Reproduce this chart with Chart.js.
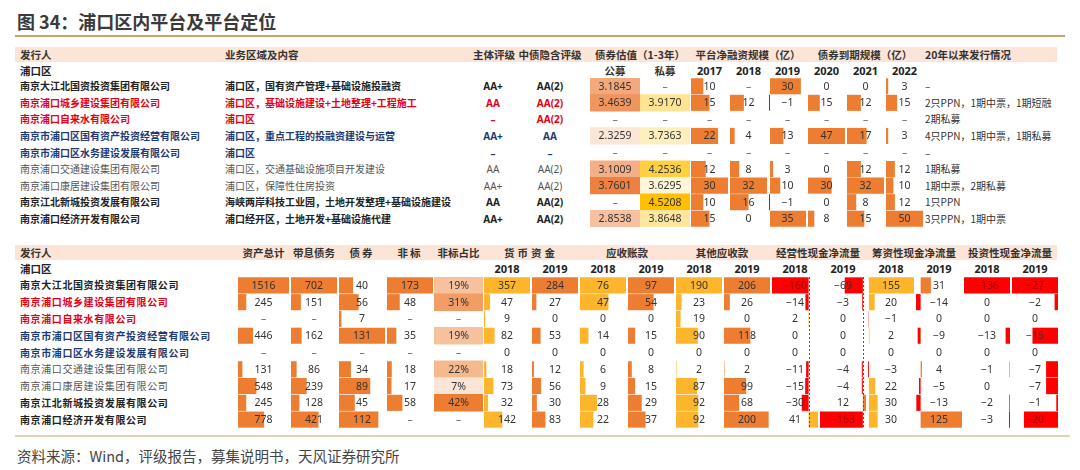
<!DOCTYPE html>
<html>
<head>
<meta charset="utf-8">
<script src="https://cdn.jsdelivr.net/npm/chart.js@4.4.1/dist/chart.umd.min.js"></script>
<style>
  body { margin: 0; background: #fff; width: 1080px; height: 470px; position: relative; overflow: hidden;
         font-family: "Noto Sans CJK SC", "Noto Sans", sans-serif; color: #333; }
  .t { position: absolute; white-space: nowrap; line-height: 14px; font-size: 10px; transform: translateY(-50%); }
  canvas { position: absolute; }
  .band { position: absolute; left: 15px; width: 1042px; height: 15px; background: #fce4d6; }
</style>
</head>
<body>
<script>
// ---- table 1: platforms ----
const companies = ["南京大江北国资投资集团有限公司", "南京浦口城乡建设集团有限公司", "南京浦口自来水有限公司",
  "南京市浦口区国有资产投资经营有限公司", "南京市浦口区水务建设发展有限公司", "南京浦口交通建设集团有限公司",
  "南京浦口康居建设集团有限公司", "南京江北新城投资发展有限公司", "南京浦口经济开发有限公司"];
const rowColors = ["#222", "#e60012", "#e60012", "#1f3b73", "#1f3b73", "#555", "#555", "#222", "#222"];
const rowBold = [true, true, true, true, true, false, false, true, true];
const business = ["浦口区，国有资产管理+基础设施投融资", "浦口区，基础设施建设+土地整理+工程施工", "浦口区",
  "浦口区，重点工程的投融资建设与运营", "浦口区", "浦口区，交通基础设施项目开发建设", "浦口区，保障性住房投资",
  "海峡两岸科技工业园，土地开发整理+基础设施建设", "浦口经开区，土地开发+基础设施代建"];
const ratingMain = ["AA+", "AA", "–", "AA+", "–", "AA", "AA+", "AA", "AA+"];
const ratingImplied = ["AA(2)", "AA(2)", "AA(2)", "AA", "–", "AA(2)", "AA(2)", "AA(2)", "AA(2)"];
const valPublic = [3.1845, 3.4639, null, 2.3259, null, 3.1009, 3.7601, null, 2.8538];
const valPrivate = [null, 3.9170, null, 3.7363, null, 4.2536, 3.6295, 4.5208, 3.8648];
const netFin2017 = [10, 15, null, 22, null, 12, 30, 10, 15];
const netFin2018 = [null, 12, null, 4, null, 8, 32, 16, 0];
const netFin2019 = [30, -1, null, 13, null, 3, 10, -1, 35];
const due2020 = [0, 15, null, 47, null, 0, 30, 0, 8];
const due2021 = [0, 12, null, 17, null, 12, 32, 8, 15];
const due2022 = [3, 15, null, 3, null, 12, 10, 12, 50];
const issuance = ["–", "2只PPN，1期中票，1期短融", "2期私募", "4只PPN，1期中票，1期私募", "–", "1期私募",
  "1期中票，2期私募", "1只PPN", "3只PPN，1期中票"];
const years1 = ["2017", "2018", "2019", "2020", "2021", "2022"];

// ---- table 2: financials (亿) ----
const totalAssets = [1516, 245, null, 446, null, 131, 548, 245, 778];
const interestDebt = [702, 151, null, 162, null, 86, 239, 128, 421];
const bonds = [40, 56, 7, 131, null, 34, 89, 45, 112];
const nonStd = [173, 48, null, 35, null, 18, 17, 58, null];
const nonStdRatio = [19, 31, null, 19, null, 22, 7, 42, null];
const cash2018 = [357, 47, 9, 82, 0, 18, 73, 32, 142];
const cash2019 = [284, 27, 0, 53, 0, 12, 56, 30, 83];
const recv2018 = [76, 47, 0, 14, 0, 6, 9, 28, 22];
const recv2019 = [97, 54, 0, 15, 0, 8, 15, 29, 37];
const otherRecv2018 = [190, 23, 19, 90, 0, 2, 87, 92, 92];
const otherRecv2019 = [206, 26, 0, 118, 0, 2, 99, 68, 200];
const opCF2018 = [-160, -14, 2, 0, 0, -11, -15, -30, 41];
const opCF2019 = [-69, -3, 0, 0, 0, -4, -4, 12, -163];
const finCF2018 = [155, 20, -1, 2, 0, -3, 22, 30, 30];
const finCF2019 = [31, -14, 0, -9, 0, 4, -5, -13, 125];
const invCF2018 = [-136, 0, 0, -13, 0, -1, 0, -2, -3];
const invCF2019 = [-27, -2, 0, -15, 0, -7, -7, -1, -20];

const ORANGE = "#ed7d31", GOLD = "#fdb52b", RED = "#ff0000";
const NUMFONT = '10.5px "Noto Sans", "Liberation Sans", sans-serif';

// row geometry
const T1_TOP = 78, T1_H = 149, T2_TOP = 277, T2_H = 151;
const y1 = i => T1_TOP + T1_H / 9 * (i + 0.5);
const y2 = i => T2_TOP + T2_H / 9 * (i + 0.5);

function txt(s, x, y, o = {}) {
  const d = document.createElement("div");
  d.className = "t";
  d.textContent = s;
  d.style.left = x + "px";
  d.style.top = y + "px";
  if (o.center) d.style.transform = "translate(-50%,-50%)";
  if (o.color) d.style.color = o.color;
  if (o.bold) d.style.fontWeight = "bold";
  if (o.size) d.style.fontSize = o.size + "px";
  if (o.ls) d.style.letterSpacing = o.ls + "px";
  if (o.num) d.style.fontFamily = '"Noto Sans", "Liberation Sans", sans-serif';
  document.body.appendChild(d);
}

function box(x, y, w, h, bg) {
  const d = document.createElement("div");
  d.style.cssText = `position:absolute;left:${x}px;top:${y}px;width:${w}px;height:${h}px;background:${bg}`;
  document.body.appendChild(d);
}

const fmtNum = v => v < 0 ? "\u2212" + (-v) : String(v);

// draws the cell values (and optional dashed zero axis) on top of the bars
function cellPlugin(texts, values, axis) {
  return {
    id: "cellText",
    afterDatasetsDraw(chart) {
      const { ctx, chartArea } = chart;
      const ys = chart.scales.y, xs = chart.scales.x;
      const cx = (chartArea.left + chartArea.right) / 2;
      ctx.save();
      if (axis) {
        const x = Math.round(xs.getPixelForValue(0)) + 0.5;
        ctx.setLineDash([2, 2]);
        ctx.strokeStyle = "#555";
        ctx.lineWidth = 1;
        ctx.beginPath();
        ctx.moveTo(x, chartArea.top);
        ctx.lineTo(x, chartArea.bottom);
        ctx.stroke();
        ctx.setLineDash([]);
      }
      ctx.font = NUMFONT;
      ctx.textAlign = "center";
      ctx.textBaseline = "middle";
      texts.forEach((t, i) => {
        const v = values[i];
        let colr = "#333";
        if (v === null) colr = "#666";
        else if (typeof v === "number" && v < 0 &&
                 xs.getPixelForValue(v) < cx - 3 && xs.getPixelForValue(0) > cx + 3) colr = "#a00000";
        ctx.fillStyle = colr;
        ctx.fillText(t, cx, ys.getPixelForValue(i) + 0.5);
      });
      ctx.restore();
    }
  };
}

function makeCanvas(x0, x1, top, h) {
  const c = document.createElement("canvas");
  c.width = x1 - x0;
  c.height = h;
  c.style.left = x0 + "px";
  c.style.top = top + "px";
  document.body.appendChild(c);
  return c;
}

function baseOptions(min, max) {
  return {
    indexAxis: "y",
    responsive: false,
    animation: false,
    layout: { padding: 0 },
    events: [],
    plugins: { legend: { display: false }, tooltip: { enabled: false } },
    scales: { x: { display: false, min: min, max: max }, y: { display: false } }
  };
}

// Excel-style data bar column
function barCol(x0, x1, top, h, values, posColor, o = {}) {
  const c = makeCanvas(x0, x1, top, h);
  const nums = values.filter(v => v !== null);
  const lo = Math.min(0, ...nums), hi = Math.max(0, ...nums);
  const m = (hi - lo) / (x1 - x0 - 2);
  const texts = values.map(v => v === null ? "–" : fmtNum(v));
  new Chart(c, {
    type: "bar",
    data: {
      labels: values.map((_, i) => i),
      datasets: [{
        data: values,
        backgroundColor: values.map(v => v < 0 ? RED : posColor),
        borderWidth: 0,
        barPercentage: 1,
        categoryPercentage: o.cat || 0.96
      }]
    },
    options: baseOptions(lo - m, hi + m),
    plugins: [cellPlugin(texts, values, o.axis)]
  });
}

function mix(a, b, t) {
  const pa = [1, 3, 5].map(k => parseInt(a.substr(k, 2), 16));
  const pb = [1, 3, 5].map(k => parseInt(b.substr(k, 2), 16));
  return "rgb(" + pa.map((v, k) => Math.round(v + (pb[k] - v) * t)).join(",") + ")";
}

// colour-scale filled cells
function scaleCol(x0, x1, top, h, values, lowC, highC, fmt) {
  const c = makeCanvas(x0, x1, top, h);
  const nums = values.filter(v => v !== null);
  const lo = Math.min(...nums), hi = Math.max(...nums);
  new Chart(c, {
    type: "bar",
    data: {
      labels: values.map((_, i) => i),
      datasets: [{
        data: values.map(v => v === null ? null : [0, 1]),
        backgroundColor: values.map(v => v === null ? "#fff" : mix(lowC, highC, (v - lo) / (hi - lo))),
        borderWidth: 0,
        barPercentage: 1,
        categoryPercentage: 1
      }]
    },
    options: baseOptions(0, 1),
    plugins: [cellPlugin(values.map(v => v === null ? "–" : fmt(v)), values.map(v => v === null ? null : "s"), false)]
  });
}

// ---- title ----
txt("图 34：浦口区内平台及平台定位", 17, 21, { bold: true, size: 18, color: "#3a3a3a" });
box(15, 35, 1050, 1.5, "#c9a26e");

// ---- table 1 ----
const band1 = document.createElement("div"); band1.className = "band"; band1.style.top = "47px"; document.body.appendChild(band1);
const H1 = 55;
txt("发行人", 20, H1, { bold: true, size: 10.5 });
txt("业务区域及内容", 225, H1, { bold: true, size: 10.5 });
txt("主体评级", 494, H1, { bold: true, size: 10.5, center: true });
txt("中债隐含评级", 550, H1, { bold: true, size: 10.5, center: true });
txt("债券估值（1-3年）", 640, H1, { bold: true, size: 10.5, center: true });
txt("平台净融资规模（亿）", 748, H1, { bold: true, size: 10.5, center: true });
txt("债券到期规模（亿）", 865, H1, { bold: true, size: 10.5, center: true });
txt("20年以来发行情况", 925, H1, { bold: true, size: 10.5 });

const S1 = 71;
txt("浦口区", 20, S1, { bold: true, size: 10.5, color: "#222" });
txt("公募", 615, S1, { bold: true, size: 10.5, center: true });
txt("私募", 665, S1, { bold: true, size: 10.5, center: true });
const yearX1 = [709.5, 748.5, 787.5, 826.5, 865.5, 904.5];
years1.forEach((y, k) => txt(y, yearX1[k], S1, { bold: true, size: 11, center: true, num: true, color: "#222" }));

companies.forEach((name, i) => {
  const col = rowColors[i], b = rowBold[i];
  txt(name, 20, y1(i), { color: col, bold: b });
  txt(business[i], 225, y1(i), { color: col, bold: b });
  txt(ratingMain[i], 493, y1(i), { color: col, bold: b, center: true, num: true });
  txt(ratingImplied[i], 550, y1(i), { color: col, bold: b, center: true, num: true });
  txt(issuance[i], 925, y1(i), { color: "#333" });
});

scaleCol(590, 640, T1_TOP, T1_H, valPublic, "#fce6d8", "#ee8040", v => v.toFixed(4));
scaleCol(640, 690, T1_TOP, T1_H, valPrivate, "#fff5d9", "#ffc000", v => v.toFixed(4));
const t1Bars = [netFin2017, netFin2018, netFin2019, due2020, due2021, due2022];
t1Bars.forEach((vals, k) => barCol(690 + 39 * k, 729 + 39 * k, T1_TOP, T1_H, vals, ORANGE, { cat: 0.97 }));

// ---- table 2 ----
const band2 = document.createElement("div"); band2.className = "band"; band2.style.top = "245px"; document.body.appendChild(band2);
const H2 = 252.5;
txt("发行人", 20, H2, { bold: true, size: 10.5 });
txt("资产总计", 263.5, H2, { bold: true, size: 10.5, center: true });
txt("带息债务", 314, H2, { bold: true, size: 10.5, center: true });
txt("债券", 362, H2, { bold: true, size: 10.5, center: true, ls: 2 });
txt("非标", 410, H2, { bold: true, size: 10.5, center: true, ls: 2 });
txt("非标占比", 458.5, H2, { bold: true, size: 10.5, center: true });
txt("货币资金", 531, H2, { bold: true, size: 10.5, center: true, ls: 3 });
txt("应收账款", 627, H2, { bold: true, size: 10.5, center: true });
txt("其他应收款", 722, H2, { bold: true, size: 10.5, center: true });
txt("经营性现金净流量", 818, H2, { bold: true, size: 10.5, center: true });
txt("筹资性现金净流量", 914, H2, { bold: true, size: 10.5, center: true });
txt("投资性现金净流量", 1010, H2, { bold: true, size: 10.5, center: true });

const S2 = 269;
txt("浦口区", 20, S2, { bold: true, size: 10.5, color: "#222" });
for (let k = 0; k < 12; k++) {
  txt(k % 2 ? "2019" : "2018", 507 + 48 * k, S2, { bold: true, size: 11, center: true, num: true, color: "#222" });
}

companies.forEach((name, i) => {
  txt(name, 20, y2(i), { color: rowColors[i], bold: rowBold[i], ls: 0.6 });
});

barCol(237, 290, T2_TOP, T2_H, totalAssets, ORANGE);
barCol(290, 338, T2_TOP, T2_H, interestDebt, ORANGE);
barCol(338, 386, T2_TOP, T2_H, bonds, ORANGE);
barCol(386, 434, T2_TOP, T2_H, nonStd, ORANGE);
scaleCol(434, 483, T2_TOP, T2_H, nonStdRatio, "#fce4d6", "#ed7d31", v => v + "%");
const t2Bars = [
  [cash2018, GOLD], [cash2019, ORANGE], [recv2018, GOLD], [recv2019, ORANGE],
  [otherRecv2018, GOLD], [otherRecv2019, ORANGE], [opCF2018, GOLD, true], [opCF2019, ORANGE, true],
  [finCF2018, GOLD], [finCF2019, ORANGE], [invCF2018, GOLD], [invCF2019, ORANGE]
];
t2Bars.forEach(([vals, colr, axis], k) => barCol(483 + 48 * k, 531 + 48 * k, T2_TOP, T2_H, vals, colr, { axis: axis }));

// ---- footer ----
box(15, 435, 1055, 2, "#e2d2b0");
txt("资料来源：Wind，评级报告，募集说明书，天风证券研究所", 17, 456, { size: 14.5, color: "#444" });
</script>
</body>
</html>
